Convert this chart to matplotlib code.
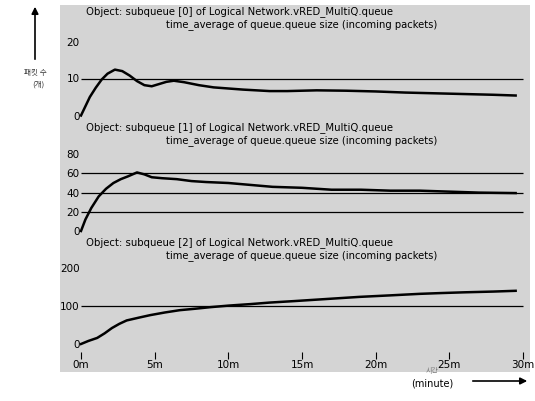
import matplotlib
matplotlib.use("Agg")
import matplotlib.pyplot as plt
from matplotlib.patches import Rectangle, FancyArrowPatch

plt.rcParams['font.family'] = ['DejaVu Sans', 'Noto Sans CJK KR']

# ---- data (minutes, packets) ----
t0 = [0, 0.3, 0.6, 1.0, 1.4, 1.8, 2.3, 2.8, 3.3, 3.8, 4.3, 4.8, 5.3, 5.8, 6.3, 7, 8, 9, 10, 11,
      12.8, 14, 16, 18, 20, 22, 24, 26, 28, 29.5]
v0 = [0, 2.5, 5, 7.5, 9.7, 11.3, 12.4, 12.0, 10.8, 9.3, 8.2, 7.9, 8.5, 9.1, 9.4, 9.0, 8.2, 7.6, 7.3, 7.0,
      6.6, 6.6, 6.8, 6.7, 6.5, 6.2, 6.0, 5.8, 5.6, 5.4]

t1 = [0, 0.3, 0.7, 1.2, 1.7, 2.2, 2.7, 3.2, 3.8, 4.3, 4.8, 5.5, 6.5, 7.5, 8.5, 10, 11.5, 13, 15, 17,
      19, 21, 23, 25, 27, 29.5]
v1 = [0, 12, 24, 36, 44, 50, 54, 57, 61, 59, 56, 55, 54, 52, 51, 50, 48, 46, 45, 43,
      43, 42, 42, 41, 40, 39.5]

t2 = [0, 0.5, 1.1, 1.6, 2.1, 2.6, 3.1, 4, 4.7, 5.7, 6.7, 7.8, 8.8, 10, 11.5, 12.8, 14.5, 16.5, 18.9,
      21, 23, 24.4, 26, 28, 29.5]
v2 = [0, 8, 16, 28, 42, 53, 62, 70, 76, 83, 89, 93, 97, 101, 105, 109, 113, 118, 124,
      128, 132, 134, 136, 138, 140]

series_t = [t0, t1, t2]
series_v = [v0, v1, v2]
yticks = [[0, 10, 20], [0, 20, 40, 60, 80], [0, 100, 200]]
grids = [[10], [20, 40, 60], [100]]
xticks = [0, 5, 10, 15, 20, 25, 30]
xticklabels = ["0m", "5m", "10m", "15m", "20m", "25m", "30m"]
titles1 = ["Object: subqueue [%d] of Logical Network.vRED_MultiQ.queue" % i for i in range(3)]
title2 = "time_average of queue.queue size (incoming packets)"

W, H = 535, 401
fig = plt.figure(figsize=(W / 100, H / 100), dpi=100)
fig.patch.set_facecolor('white')


def fx(px):
    return px / W


def fy(py):
    return 1 - py / H


# continuous gray background behind all panels
bg = Rectangle((fx(60), fy(372)), fx(470), (372 - 5) / H,
               transform=fig.transFigure, facecolor='#d4d4d4',
               edgecolor='none', zorder=-10)
fig.add_artist(bg)

# panel pixel geometry: top, bottom, zero pixel, px per unit
panels = [(5, 120, 115.5, 3.7), (121, 234, 231, 0.96), (236, 352, 344, 0.38)]
xl = (-(81 - 60) / 14.733, 30 + (530 - 523) / 14.733)

for i, (top, bot, zero, ppu) in enumerate(panels):
    ax = fig.add_axes([fx(60), fy(bot), fx(470), (bot - top) / H])
    ax.set_zorder(1)
    ax.set_facecolor('none')
    for s in ax.spines.values():
        s.set_visible(False)
    ax.set_xlim(*xl)
    ax.set_ylim(-(bot - zero) / ppu, (zero - top) / ppu)
    ax.hlines(grids[i], 0, 30, colors='black', linewidth=0.9)
    ax.plot(series_t[i], series_v[i], color='black', linewidth=1.8)
    ax.set_yticks(yticks[i])
    ax.set_yticklabels([str(v) for v in yticks[i]])
    ax.tick_params(axis='y', length=0, pad=-14, labelsize=7.5)
    if i == 2:
        ax.set_xticks(xticks)
        ax.set_xticklabels(xticklabels)
        ax.tick_params(axis='x', direction='out', length=5, width=0.8, pad=1, labelsize=7.5)
    else:
        ax.set_xticks([])
    h = bot - top
    ax.text((86 - 60) / 470, 1 - 7 / h, titles1[i], transform=ax.transAxes,
            fontsize=7.3, va='center', ha='left')
    ax.text((166 - 60) / 470, 1 - 20 / h, title2, transform=ax.transAxes,
            fontsize=7.2, va='center', ha='left')

# y label (Korean) and arrow
fig.text(fx(35), fy(73), "패킷 수", fontsize=5.5, ha='center', va='center',
         family=['Noto Sans CJK KR', 'DejaVu Sans'], color='#333333')
fig.text(fx(38), fy(85), "(개)", fontsize=5.5, ha='center', va='center',
         family=['Noto Sans CJK KR', 'DejaVu Sans'], color='#333333')
fig.add_artist(FancyArrowPatch((fx(35), fy(62)), (fx(35), fy(4)),
                               transform=fig.transFigure, arrowstyle='-|>', mutation_scale=10,
                               color='black', linewidth=1.2))

# x label and arrow
fig.text(fx(432), fy(371), "시간", fontsize=5, ha='center', va='center',
         family=['Noto Sans CJK KR', 'DejaVu Sans'], color='#777777')
fig.text(fx(432), fy(384), "(minute)", fontsize=7, ha='center', va='center')
fig.add_artist(FancyArrowPatch((fx(470), fy(381)), (fx(530), fy(381)),
                               transform=fig.transFigure, arrowstyle='-|>', mutation_scale=10,
                               color='black', linewidth=1.2))

fig.savefig("out.png", dpi=100)
